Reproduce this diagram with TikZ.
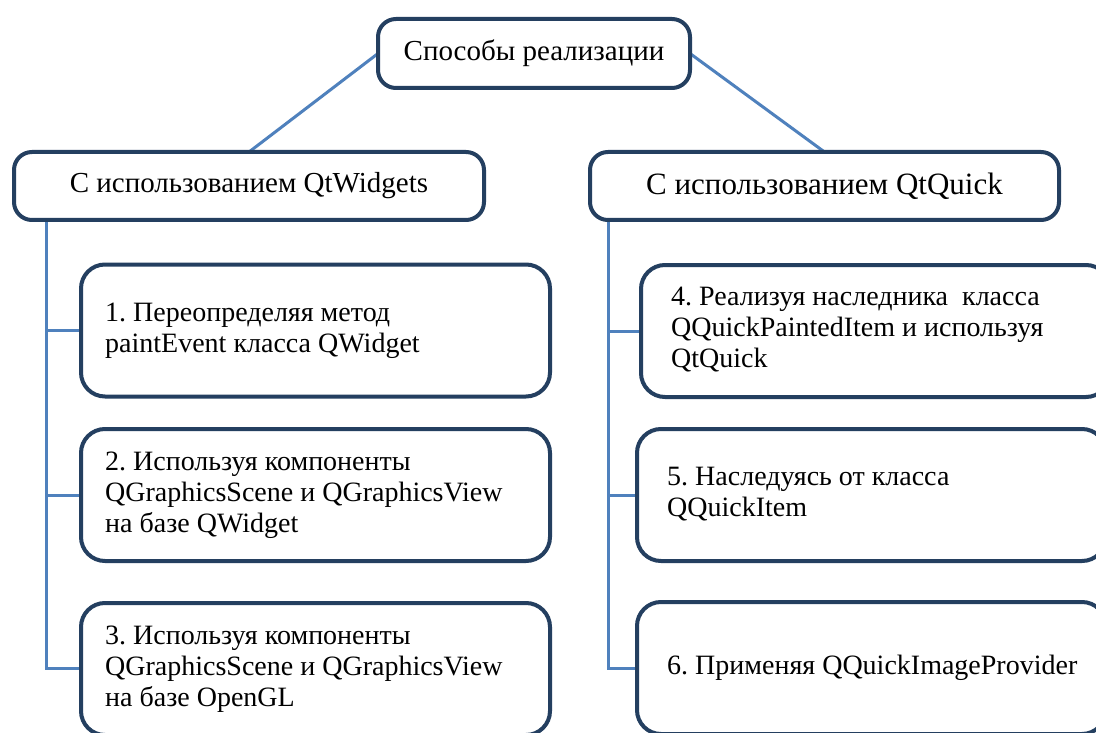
\documentclass[tikz,border=0pt]{standalone}
\usepackage{fontspec}
\setmainfont{Liberation Serif}
\usetikzlibrary{calc}
\definecolor{boxline}{HTML}{243F60}
\definecolor{conn}{HTML}{4F81BD}
\frenchspacing
\begin{document}
\begin{tikzpicture}[x=1pt,y=-1pt,
  head/.style={draw=boxline, line width=4pt, rounded corners=18pt, fill=white, inner sep=0pt, align=center},
  item/.style={draw=boxline, line width=4pt, rounded corners=24pt, fill=white, inner sep=0pt, minimum width=469pt, minimum height=132pt},
  itemtext/.style={anchor=west, align=left, inner sep=0pt, font=\fontsize{28}{31}\selectfont},
  link/.style={draw=conn, line width=3pt}]
\useasboundingbox (0,0) rectangle (1096,733);
\clip (0,0) rectangle (1096,733);
\fill[white] (0,0) rectangle (1096,733);

% connectors drawn first (under boxes)
\coordinate (topL) at (378,53.5);
\coordinate (topR) at (690,53.5);
\coordinate (wN) at (249,152);
\coordinate (qN) at (824.5,152);
\draw[link] (topL) -- (wN);
\draw[link] (topR) -- (qN);

\coordinate (wS) at (46,220);
\coordinate (qS) at (608,220);
\coordinate (b1W) at (81,330.5);
\coordinate (b2W) at (81,495);
\coordinate (b3W) at (81,668);
\coordinate (b4W) at (641,331);
\coordinate (b5W) at (637,495);
\coordinate (b6W) at (637,668);
\draw[link] (wS) |- (b3W);
\draw[link] (wS |- b1W) -- (b1W);
\draw[link] (wS |- b2W) -- (b2W);
\draw[link] (qS) |- (b6W);
\draw[link] (qS |- b4W) -- (b4W);
\draw[link] (qS |- b5W) -- (b5W);

% boxes
\node[head, minimum width=312pt, minimum height=69pt, font=\fontsize{29}{33}\selectfont] (top) at (534,53.5) {Способы реализации};
\node[head, minimum width=470pt, minimum height=68pt, font=\fontsize{29}{33}\selectfont] (w) at (249,186) {С использованием QtWidgets};
\node[head, minimum width=469pt, minimum height=68pt, font=\fontsize{31}{35}\selectfont] (q) at (824.5,186) {С использованием QtQuick};

\node[item] (b1) at (315.5,330.5) {};
\node[item] (b2) at (315.5,495) {};
\node[item] (b3) at (315.5,669) {};
\node[item] (b4) at (875.5,331) {};
\node[item] (b5) at (871.5,495) {};
\node[item] (b6) at (871.5,668) {};

\node[itemtext] (t1) at ($(b1.west)+(26,0)$) {1. Переопределяя метод\\paintEvent класса QWidget};
\node[itemtext] (t2) at ($(b2.west)+(26,0)$) {2. Используя компоненты\\QGraphicsScene и QGraphicsView\\на базе QWidget};
\node[itemtext] (t3) at ($(b3.west)+(26,0)$) {3. Используя компоненты\\QGraphicsScene и QGraphicsView\\на базе OpenGL};
\node[itemtext] (t4) at ($(b4.west)+(32,-1)$) {4. Реализуя наследника\ \ класса\\QQuickPaintedItem и используя\\QtQuick};
\node[itemtext] (t5) at ($(b5.west)+(32,-1)$) {5. Наследуясь от класса\\QQuickItem};
\node[itemtext] (t6) at ($(b6.west)+(32,0)$) {6. Применяя QQuickImageProvider};
\end{tikzpicture}
\end{document}
